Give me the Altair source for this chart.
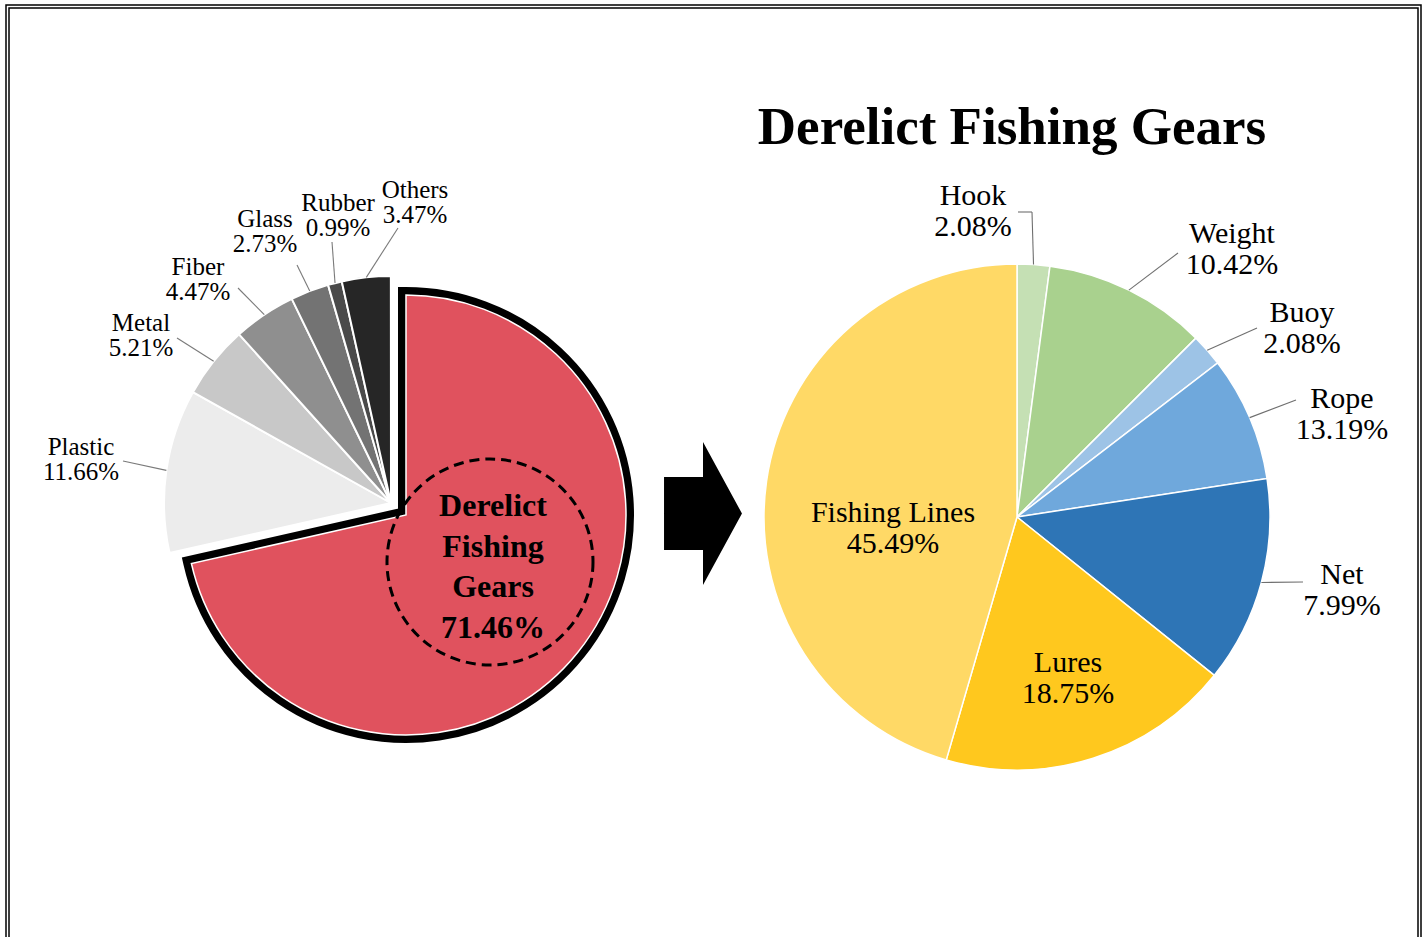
import math
import altair as alt
import pandas as pd

# ---------------- data ----------------
left_cats = ["Derelict Fishing Gears", "Plastic", "Metal", "Fiber", "Glass", "Rubber", "Others"]
left_vals = [71.46, 11.66, 5.21, 4.47, 2.73, 0.99, 3.47]
left_pct = ["71.46%", "11.66%", "5.21%", "4.47%", "2.73%", "0.99%", "3.47%"]

right_cats = ["Hook", "Weight", "Buoy", "Rope", "Net", "Lures", "Fishing Lines"]
right_vals = [2.08, 10.42, 2.08, 7.99, 13.19, 18.75, 45.49]
right_pct = ["2.08%", "10.42%", "2.08%", "13.19%", "7.99%", "18.75%", "45.49%"]

title_text = "Derelict Fishing Gears"

# ---------------- styles / layout ----------------
left_colors = ["#e0525e", "#ececec", "#c8c8c8", "#8f8f8f", "#737373", "#4a4a4a", "#262626"]
right_colors = ["#c5e0b4", "#a9d18e", "#9dc3e6", "#6fa8dc", "#2e75b6", "#ffc81e", "#ffd966"]

FONT = "Liberation Serif"

# grey pie / exploded red slice / right pie geometry (pixels)
L_CX, L_CY, L_R = 391, 503, 227
RED_CX, RED_CY, RED_R = 406, 515, 220
R_CX, R_CY, R_R = 1017, 517, 253

# label positions = centre of the first text line
left_label_x = [None, 81, 141, 198, 265, 338, 415]
left_label_y = [None, 447, 323, 267, 219, 203, 190]
left_lead_x = [None, 123, 177, 238, 297, 332, 398]
left_lead_y = [None, 461, 338, 288, 265, 242, 228]

right_label_x = [973, 1232, 1302, 1342, 1342, 1068, 893]
right_label_y = [196, 234, 313, 399, 575, 663, 513]
right_lead_x = [1032, 1178, 1257, 1296, 1303, None, None]
right_lead_y = [212, 253, 328, 400, 582, None, None]

# ---------------- tables ----------------
left_df = pd.DataFrame({
    "cat": left_cats, "value": left_vals, "order": list(range(len(left_cats))),
    "color": left_colors,
    "label": [f"{c}\n{p}" for c, p in zip(left_cats, left_pct)],
    "lx": left_label_x, "ly": left_label_y, "ex": left_lead_x, "ey": left_lead_y,
})
right_df = pd.DataFrame({
    "cat": right_cats, "value": right_vals, "order": list(range(len(right_cats))),
    "color": right_colors,
    "label": [f"{c}\n{p}" for c, p in zip(right_cats, right_pct)],
    "lx": right_label_x, "ly": right_label_y, "ex": right_lead_x, "ey": right_lead_y,
})

one = pd.DataFrame({"k": [0]})


def pie(df, cx, cy, r, stroke, sw, visible_test=None, **kw):
    enc = dict(
        theta=alt.Theta("value:Q", stack=True),
        order=alt.Order("order:Q", sort="ascending"),
        color=alt.Color("color:N", scale=None, legend=None),
        x=alt.value(cx), y=alt.value(cy),
    )
    if visible_test is not None:
        enc["opacity"] = alt.condition(visible_test, alt.value(1), alt.value(0))
    return alt.Chart(df).mark_arc(radius=r, stroke=stroke, strokeWidth=sw, **kw).encode(**enc)


def leaders(df, cx, cy, r, color):
    return (
        alt.Chart(df)
        .transform_joinaggregate(total="sum(value)")
        .transform_window(cum="sum(value)", sort=[{"field": "order"}], frame=[None, 0])
        .transform_calculate(
            mid="(datum.cum - datum.value / 2) / datum.total * 2 * PI",
        )
        .transform_calculate(
            sx=f"{cx} + {r} * sin(datum.mid)",
            sy=f"{cy} - {r} * cos(datum.mid)",
        )
        .transform_filter("isValid(datum.ex)")
        .mark_rule(color=color, strokeWidth=1.1)
        .encode(
            x=alt.X("sx:Q", scale=None, axis=None),
            y=alt.Y("sy:Q", scale=None, axis=None),
            x2="ex:Q", y2="ey:Q",
        )
    )


def labels(df, size, lh):
    return (
        alt.Chart(df)
        .transform_filter("isValid(datum.lx)")
        .mark_text(font=FONT, fontSize=size, lineHeight=lh, lineBreak="\n",
                   align="center", baseline="middle", color="black")
        .encode(x=alt.X("lx:Q", scale=None, axis=None),
                y=alt.Y("ly:Q", scale=None, axis=None),
                text="label:N")
    )


# grey slices (red one hidden), exploded red slice with black outline
grey = pie(left_df, L_CX, L_CY, L_R, "white", 2, visible_test=alt.datum.order != 0)
red_outline = pie(left_df, RED_CX, RED_CY, RED_R, "black", 16,
                  visible_test=alt.datum.order == 0, strokeJoin="miter")
red_fill = pie(left_df, RED_CX, RED_CY, RED_R, "white", 1.5,
               visible_test=alt.datum.order == 0)

dashed = alt.Chart(one).mark_point(
    shape="circle", size=(2 * 103) ** 2, filled=False, color="black",
    strokeWidth=3, strokeDash=[10, 6], opacity=1,
).encode(x=alt.value(490), y=alt.value(562))

center_text = alt.Chart(pd.DataFrame({"t": ["Derelict\nFishing\nGears\n" + left_pct[0]]})).mark_text(
    font=FONT, fontSize=32, fontWeight="bold", lineHeight=40.7, lineBreak="\n",
    align="center", baseline="middle", color="black",
).encode(text="t:N", x=alt.value(493), y=alt.value(506))

left_leaders = leaders(left_df, L_CX, L_CY, L_R, "#7a7a7a")
left_labels = labels(left_df, 25, 25)

# arrow
arrow = alt.Chart(one).mark_point(
    shape="M-0.545,-0.51L0,-0.51L0,-1L0.545,0L0,1L0,0.51L-0.545,0.51Z",
    size=143 ** 2, filled=True, color="black", strokeWidth=0, opacity=1,
).encode(x=alt.value(703), y=alt.value(513.5))

# right pie
right_pie = pie(right_df, R_CX, R_CY, R_R, "white", 1.5)
right_leaders = leaders(right_df, R_CX, R_CY, R_R, "#6f6f6f")
hook_elbow = alt.Chart(one).mark_rule(color="#6f6f6f", strokeWidth=1.1).encode(
    x=alt.value(1018), x2=alt.value(right_lead_x[0]),
    y=alt.value(right_lead_y[0]), y2=alt.value(right_lead_y[0]))
right_labels = labels(right_df, 30, 30.5)

title = alt.Chart(pd.DataFrame({"t": [title_text]})).mark_text(
    font=FONT, fontSize=53, fontWeight="bold", align="center", baseline="middle", color="black",
).encode(text="t:N", x=alt.value(1012), y=alt.value(128))

# double frame
frame_outer = alt.Chart(one).mark_rect(filled=False, stroke="black", strokeWidth=1.5).encode(
    x=alt.value(6), x2=alt.value(1421), y=alt.value(5), y2=alt.value(980))
frame_inner = alt.Chart(one).mark_rect(filled=False, stroke="black", strokeWidth=1.5).encode(
    x=alt.value(9), x2=alt.value(1418), y=alt.value(8), y2=alt.value(980))

chart = alt.layer(
    frame_outer, frame_inner,
    grey, red_outline, red_fill, dashed, center_text, left_leaders, left_labels,
    arrow,
    right_pie, right_leaders, hook_elbow, right_labels, title,
).properties(
    width=1427, height=937, padding=0, autosize="none", background="white",
).configure_view(stroke=None)

chart.save("out.html", embed_options={"renderer": "svg", "actions": False})
